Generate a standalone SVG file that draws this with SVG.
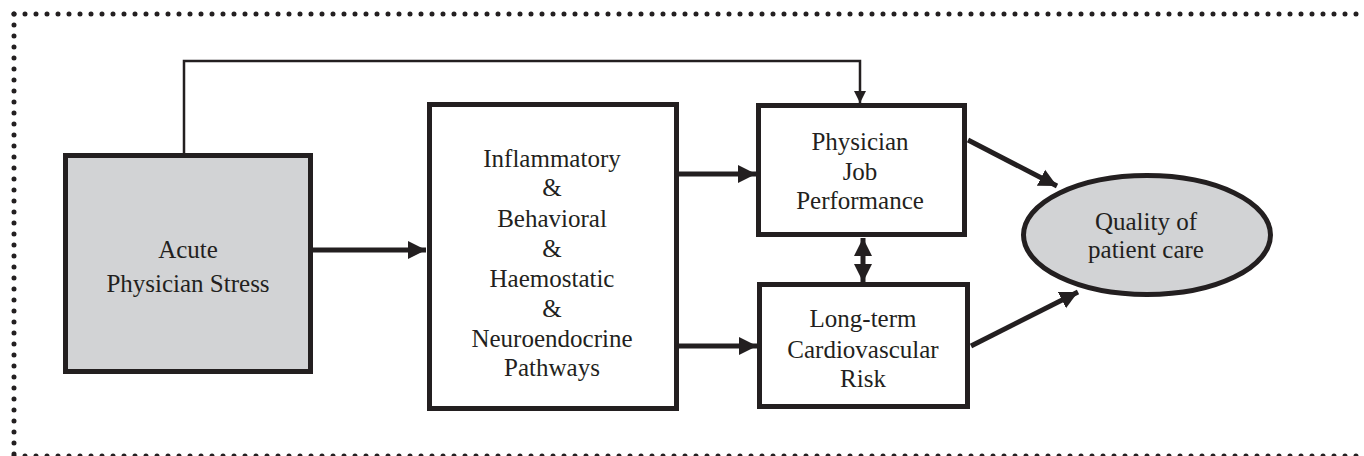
<svg xmlns="http://www.w3.org/2000/svg" width="1364" height="456" viewBox="0 0 1364 456">
<style>
.box{fill:#fff;stroke:#231f20;stroke-width:5}
.grey{fill:#d2d3d5}
.t{font-family:'Liberation Serif','Tinos','Times New Roman',Times,'DejaVu Serif','Noto Serif',serif;font-size:25px;fill:#231f20;text-anchor:middle}
.c{fill:none;stroke:#231f20;stroke-width:5}
.thin{fill:none;stroke:#231f20;stroke-width:2.5}
.dots{fill:none;stroke:#231f20;stroke-width:5;stroke-linecap:round;stroke-dasharray:0 11}
</style>
<defs>
<marker id="ah" markerUnits="userSpaceOnUse" markerWidth="20" markerHeight="20" viewBox="0 0 20 20" refX="18" refY="10" orient="auto">
<path d="M0,1 L18,10 L0,19 Z" fill="#231f20"/>
</marker>
<marker id="ahs" markerUnits="userSpaceOnUse" markerWidth="20" markerHeight="20" viewBox="0 0 20 20" refX="18" refY="10" orient="auto-start-reverse">
<path d="M0,1 L18,10 L0,19 Z" fill="#231f20"/>
</marker>
<marker id="ahthin" markerUnits="userSpaceOnUse" markerWidth="14" markerHeight="14" viewBox="0 0 14 14" refX="12" refY="7" orient="auto">
<path d="M0,1 L12,7 L0,13 Z" fill="#231f20"/>
</marker>
</defs>
<g id="frame">
<line class="dots" x1="14" y1="14" x2="1364" y2="14"/>
<line class="dots" x1="14" y1="14" x2="14" y2="455"/>
<line class="dots" x1="14" y1="456" x2="1364" y2="456"/>
</g>
<g id="connectors">
<polyline class="thin" points="184,153 184,61 860,61 860,103" marker-end="url(#ahthin)"/>
<line class="c" x1="313" y1="250" x2="426" y2="250" marker-end="url(#ah)"/>
<line class="c" x1="679" y1="174" x2="756" y2="174" marker-end="url(#ah)"/>
<line class="c" x1="679" y1="346" x2="757" y2="346" marker-end="url(#ah)"/>
<line class="c" x1="863" y1="238" x2="863" y2="282" stroke-width="4" marker-start="url(#ahs)" marker-end="url(#ah)"/>
<line class="c" x1="968" y1="140" x2="1057" y2="186" marker-end="url(#ah)"/>
<line class="c" x1="971" y1="346" x2="1078" y2="292" marker-end="url(#ah)"/>
</g>
<g id="acute" font-family="Liberation Serif, serif">
<rect class="box grey" x="65.5" y="155.5" width="245" height="216"/>
<text class="t" x="188" y="258" font-size="27">Acute</text>
<text class="t" x="188" y="292" font-size="27">Physician Stress</text>
</g>
<g id="pathways">
<rect class="box" x="429.5" y="104.5" width="247" height="304"/>
<text class="t" x="552" y="167">Inflammatory</text>
<text class="t" x="552" y="196">&amp;</text>
<text class="t" x="552" y="227">Behavioral</text>
<text class="t" x="552" y="257">&amp;</text>
<text class="t" x="552" y="287">Haemostatic</text>
<text class="t" x="552" y="317">&amp;</text>
<text class="t" x="552" y="347">Neuroendocrine</text>
<text class="t" x="552" y="376">Pathways</text>
</g>
<g id="performance">
<rect class="box" x="758.5" y="105.5" width="206" height="129"/>
<text class="t" x="860" y="150">Physician</text>
<text class="t" x="860" y="180">Job</text>
<text class="t" x="860" y="209">Performance</text>
</g>
<g id="risk">
<rect class="box" x="759.5" y="284.5" width="208" height="122"/>
<text class="t" x="863" y="327">Long-term</text>
<text class="t" x="863" y="358">Cardiovascular</text>
<text class="t" x="863" y="387">Risk</text>
</g>
<g id="quality">
<ellipse class="box grey" cx="1147" cy="235" rx="123.5" ry="59.5"/>
<text class="t" x="1146" y="230" font-size="24">Quality of</text>
<text class="t" x="1146" y="258" font-size="24">patient care</text>
</g>
</svg>
